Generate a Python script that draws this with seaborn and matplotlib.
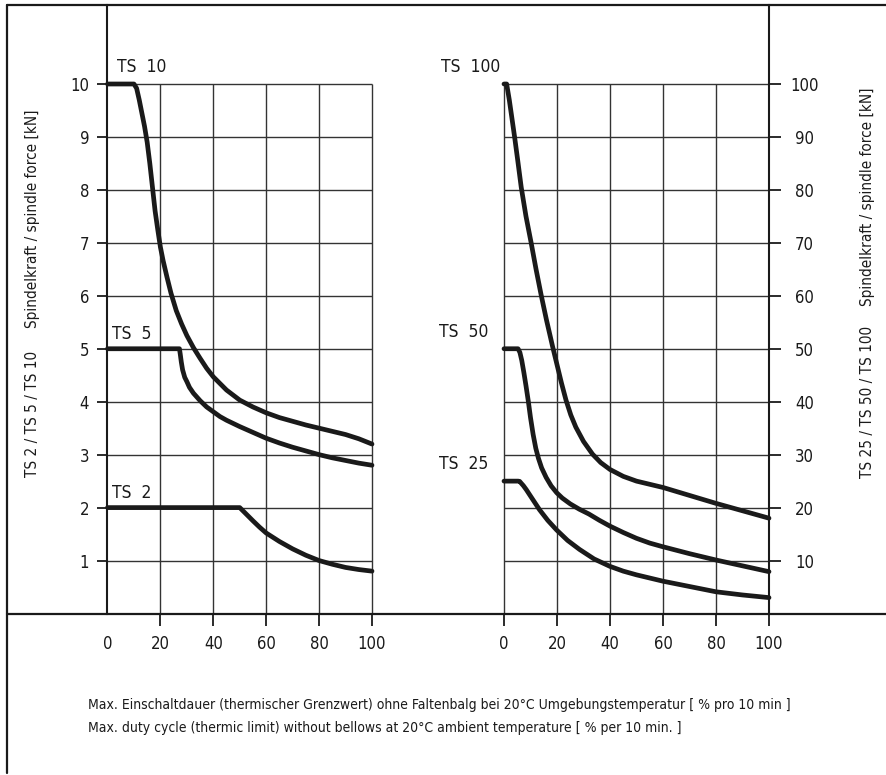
import matplotlib
matplotlib.use("Agg")
import pandas as pd
import seaborn as sns
from matplotlib import pyplot as plt
from matplotlib import font_manager
from matplotlib.lines import Line2D

# ---- data ----
duty_ts10 = [0, 10, 11, 12, 13, 14, 15, 16, 17, 18, 19, 20, 21, 22.5, 24, 26, 28, 30, 32.5, 35,
             37.5, 40, 45, 50, 55, 60, 65, 70, 75, 80, 85, 90, 95, 100]
force_ts10 = [10, 10, 9.92, 9.7, 9.45, 9.2, 8.9, 8.5, 8.05, 7.6, 7.25, 6.92, 6.67, 6.35, 6.05, 5.72,
              5.47, 5.25, 5.02, 4.82, 4.63, 4.47, 4.22, 4.03, 3.9, 3.79, 3.7, 3.63, 3.56, 3.5,
              3.44, 3.38, 3.3, 3.2]

duty_ts5 = [0, 27.2, 27.5, 27.9, 28.4, 29.2, 30, 31, 32.5, 35, 37.5, 40, 42.5, 45, 47.5, 50, 55, 60,
            65, 70, 75, 80, 85, 90, 95, 100]
force_ts5 = [5, 5, 4.9, 4.75, 4.6, 4.46, 4.38, 4.27, 4.16, 4.02, 3.9, 3.81, 3.72, 3.65, 3.59, 3.53,
             3.42, 3.31, 3.22, 3.14, 3.07, 3.0, 2.94, 2.89, 2.84, 2.8]

duty_ts2 = [0, 50, 52, 55, 57.5, 60, 65, 70, 75, 80, 85, 90, 95, 100]
force_ts2 = [2, 2, 1.9, 1.75, 1.63, 1.52, 1.36, 1.22, 1.1, 1.0, 0.93, 0.87, 0.83, 0.8]

duty_ts100 = [0, 1, 2, 3, 4, 5.2, 6.5, 8.3, 10.25, 12.1, 14, 16, 18.3, 20, 21.7, 23.4, 25.2, 27.1,
              30, 33.4, 36.5, 40, 45, 50, 55, 60, 70, 80, 90, 100]
force_ts100 = [100, 100, 97, 93.5, 90, 85.5, 80.5, 75, 70, 65, 60.2, 55.5, 50.5, 47, 43.5, 40.3,
               37.5, 35.2, 32.5, 30.1, 28.5, 27.2, 25.9, 25.0, 24.4, 23.8, 22.3, 20.8, 19.4, 18]

duty_ts50 = [0, 5.3, 6, 6.7, 7.5, 8.3, 9.2, 10, 11, 12, 13, 14.2, 15.9, 17.8, 19.9, 22, 25, 28.4,
             32, 36, 40, 45, 50, 55, 60, 70, 80, 90, 100]
force_ts50 = [50, 50, 49.3, 47.8, 45.5, 43, 40, 37, 33.8, 31.2, 29.3, 27.5, 25.7, 24.1, 22.8, 21.8,
              20.7, 19.7, 18.8, 17.6, 16.5, 15.3, 14.2, 13.3, 12.6, 11.3, 10.1, 9.0, 7.9]

duty_ts25 = [0, 5.3, 5.9, 6.5, 7.3, 8.4, 10.5, 13.4, 16.5, 19.8, 24, 28.5, 34, 40, 45, 50, 55, 60,
             70, 80, 90, 100]
force_ts25 = [25, 25, 24.95, 24.6, 24.15, 23.4, 21.8, 19.6, 17.6, 15.8, 13.8, 12.1, 10.3, 8.9, 8.0,
              7.3, 6.7, 6.1, 5.1, 4.1, 3.5, 3.0]

x_ticks = [0, 20, 40, 60, 80, 100]
left_y_ticks = [1, 2, 3, 4, 5, 6, 7, 8, 9, 10]
right_y_ticks = [10, 20, 30, 40, 50, 60, 70, 80, 90, 100]

left_series = {"TS  10": (duty_ts10, force_ts10),
               "TS  5": (duty_ts5, force_ts5),
               "TS  2": (duty_ts2, force_ts2)}
right_series = {"TS  100": (duty_ts100, force_ts100),
                "TS  50": (duty_ts50, force_ts50),
                "TS  25": (duty_ts25, force_ts25)}

caption_de = ("Max. Einschaltdauer (thermischer Grenzwert) ohne Faltenbalg bei 20°C "
              "Umgebungstemperatur [ % pro 10 min ]")
caption_en = "Max. duty cycle (thermic limit) without bellows at 20°C ambient temperature [ % per 10 min. ]"


def to_frame(series: dict) -> pd.DataFrame:
    rows = []
    for name, (xs, ys) in series.items():
        for x, y in zip(xs, ys):
            rows.append({"series": name, "duty": x, "force": y})
    return pd.DataFrame(rows)


sns.set_theme(style="white")
available = {f.name for f in font_manager.fontManager.ttflist}
base_font = "Liberation Sans Narrow" if "Liberation Sans Narrow" in available else "DejaVu Sans"
plt.rcParams["font.family"] = [base_font, "DejaVu Sans"]
plt.rcParams["font.stretch"] = "condensed"

W, H = 887, 775
ink = "#1a1a1a"
grid_c = "#333333"


def fx(px):
    return px / W


def fy(py):
    return 1 - py / H


fig = plt.figure(figsize=(W / 100, H / 100), dpi=100)

# pixel layout of the two panels
zero_py, top_py, full_py = 613.5, 5.0, 84.0
frac = (zero_py - top_py) / (zero_py - full_py)
ax_l = fig.add_axes([fx(107.5), fy(zero_py), (372 - 107.5) / W, (zero_py - top_py) / H])
ax_r = fig.add_axes([fx(504), fy(zero_py), (769 - 504) / W, (zero_py - top_py) / H])

for ax, series, ymax, yticks, side in [
    (ax_l, left_series, 10, left_y_ticks, "left"),
    (ax_r, right_series, 100, right_y_ticks, "right"),
]:
    ax.set_facecolor("none")
    ax.set_xlim(0, 100)
    ax.set_ylim(0, ymax * frac)

    # grid
    hl = ax.hlines(yticks, 0, 100, color=grid_c, lw=1.0, zorder=1)
    vx = [x for x in x_ticks if (x > 0 if side == "left" else x < 100)]
    vl = ax.vlines(vx, 0, ymax, color=grid_c, lw=1.0, zorder=1)
    hl.set_clip_on(False)
    vl.set_clip_on(False)

    df = to_frame(series)
    sns.lineplot(data=df, x="duty", y="force", units="series", estimator=None,
                 color=ink, lw=3.4, legend=False, ax=ax, zorder=3)
    for line in ax.lines:
        line.set_clip_on(False)
        line.set_solid_capstyle("round")
        line.set_solid_joinstyle("round")

    for sp in ax.spines.values():
        sp.set_visible(False)
    ax.spines[side].set_visible(True)
    ax.spines[side].set_color(ink)
    ax.spines[side].set_linewidth(1.5)

    ax.set_xticks(x_ticks)
    ax.set_xticklabels([str(t) for t in x_ticks])
    ax.tick_params(axis="x", bottom=True, direction="out", length=8.6, width=1.3,
                   color=ink, pad=7, labelsize=12, labelcolor=ink)
    ax.set_yticks(yticks)
    ax.set_yticklabels([str(t) for t in yticks])
    if side == "left":
        ax.tick_params(axis="y", left=True, right=False, direction="out", length=7.2, width=1.3,
                       color=ink, pad=6, labelsize=12, labelcolor=ink)
    else:
        ax.yaxis.tick_right()
        ax.tick_params(axis="y", left=False, right=True, direction="out", length=8.6, width=1.3,
                       color=ink, pad=17, labelsize=12, labelcolor=ink)
        for lab in ax.get_yticklabels():
            lab.set_horizontalalignment("center")
    ax.set_xlabel("")
    ax.set_ylabel("")

# no x tick at 0 on the left panel (the axis itself sits there)
ax_l.xaxis.get_major_ticks()[0].tick1line.set_visible(False)

# curve labels
lab_kw = dict(fontsize=12.5, color=ink, va="bottom")
ax_l.text(3.6, 10.15, "TS  10", ha="left", **lab_kw)
ax_l.text(1.7, 5.1, "TS  5", ha="left", **lab_kw)
ax_l.text(1.7, 2.1, "TS  2", ha="left", **lab_kw)
ax_r.text(-1.5, 101.5, "TS  100", ha="right", **lab_kw)
ax_r.text(-6, 51.5, "TS  50", ha="right", **lab_kw)
ax_r.text(-6, 26.5, "TS  25", ha="right", **lab_kw)

# side labels
side_kw = dict(rotation=90, ha="center", va="center", fontsize=11, color=ink)
fig.text(fx(33), fy(219), "Spindelkraft / spindle force [kN]", **side_kw)
fig.text(fx(33), fy(414), "TS 2 / TS 5 / TS 10", **side_kw)
fig.text(fx(868), fy(197), "Spindelkraft / spindle force [kN]", **side_kw)
fig.text(fx(868), fy(402), "TS 25 / TS 50 / TS 100", **side_kw)

# caption
fig.text(fx(88), fy(705), caption_de, ha="left", va="center", fontsize=10, color=ink)
fig.text(fx(88), fy(728), caption_en, ha="left", va="center", fontsize=10, color=ink)

# frame: left border, top border and the common base line
for xs, ys in [((7, 7), (5, 773)), ((7, 887), (5, 5)), ((7, 887), (zero_py, zero_py))]:
    fig.add_artist(Line2D([fx(x) for x in xs], [fy(y) for y in ys], color=ink, lw=1.6))

fig.savefig("out.png", dpi=100)
plt.close(fig)
